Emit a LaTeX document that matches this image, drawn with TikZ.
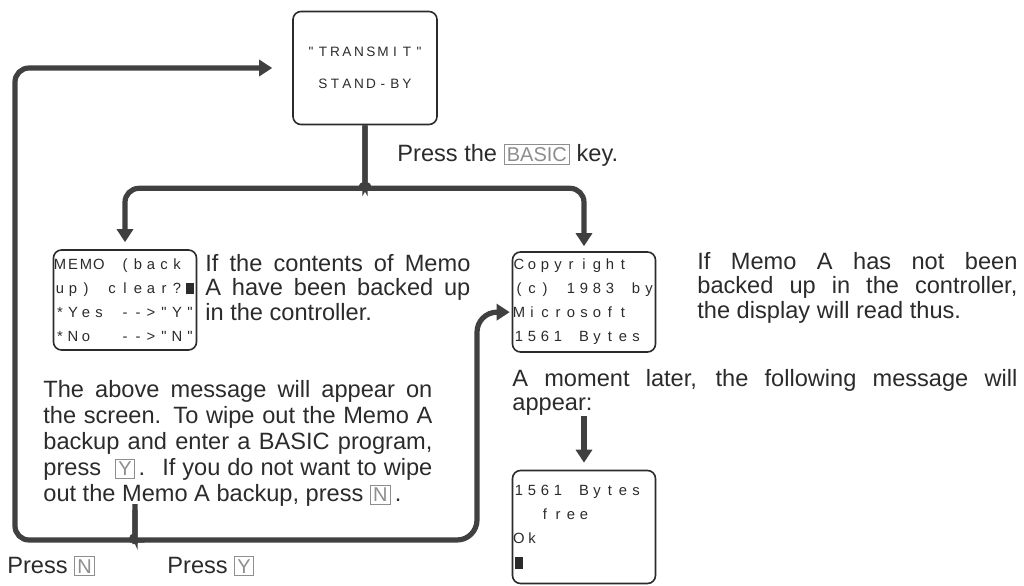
\documentclass[tikz,border=0pt]{standalone}
\usepackage{fontspec}
\setmainfont{Liberation Sans}
\newfontfamily\lcdfont{Liberation Sans}
\usetikzlibrary{arrows.meta,positioning}
\definecolor{ink}{HTML}{2B2B2B}
\definecolor{keygray}{HTML}{8E8E8E}
\hyphenpenalty=10000
\exhyphenpenalty=10000
\newcommand{\keycap}[1]{{\setlength{\fboxsep}{1.2pt}\setlength{\fboxrule}{0.4pt}\fcolorbox{keygray}{white}{\color{keygray}\fontsize{10}{10}\selectfont#1}}}
\newlength{\lcdw}
\setlength{\lcdw}{6.5pt}
\def\lcd#1{\lcdloop#1\relax}
\def\lcdloop#1{\ifx#1\relax\else\makebox[\lcdw][c]{#1}\expandafter\lcdloop\fi}
\newcommand{\cursor}{\rule[-0.6pt]{4pt}{5.8pt}}

\begin{document}
\begin{tikzpicture}[x=0.5pt, y=-0.5pt,
  lcdbox/.style={draw=ink, line width=0.8pt, rounded corners=4pt, inner sep=0pt,
    text width=71.5pt, minimum height=50pt, align=left, text=ink,
    font=\lcdfont\fontsize{7.4}{12}\selectfont},
  flow/.style={draw=ink!90, line width=2.6pt, rounded corners=7pt,
    -{Triangle[length=6.5pt,width=8pt]}},
  bare/.style={draw=ink!90, line width=2.6pt},
  note/.style={inner sep=0pt, anchor=north west, align=justify, text=ink,
    font=\fontsize{11.8}{12.2}\selectfont}]
  \useasboundingbox (0,0) rectangle (1024,585);

  % displays
  \node[lcdbox, text width=72pt, minimum height=56.5pt, align=center,
    font=\lcdfont\fontsize{6.8}{16}\selectfont\setlength{\lcdw}{6pt}]
    (top) at (365,68) {\lcd{"TRANSMIT"}\\\lcd{STAND-BY}};
  \node[lcdbox] (memo) at (125,300)
    {\lcd{MEMO~(back}\\\lcd{up)~clear?\cursor}\\\lcd{*Yes~-->"Y"}\\\lcd{*No~~-->"N"}};
  \node[lcdbox] (copy) at (584,302)
    {\lcd{Copyright}\\\lcd{(c)~1983~by}\\\lcd{Microsoft}\\\lcd{1561~Bytes}};
  \node[lcdbox, minimum height=56.5pt] (bottom) at (584,527)
    {\lcd{1561~Bytes}\\\lcd{~~free}\\\lcd{Ok}\\\lcd{\cursor}};

  % texts
  \node[note, anchor=base west] (press) at (397,161) {Press the \keycap{BASIC} key.};
  \node[note, text width=132.5pt] (memonote) at (205,254)
    {If the contents of Memo\linebreak A have been backed up\linebreak in the controller.};
  \node[note, text width=160pt] (copynote) at (697,252)
    {If Memo A has not been\linebreak backed up in the controller,\linebreak the display will read thus.};
  \node[note, text width=194.5pt, font=\fontsize{11.8}{13}\selectfont] (para) at (43,380)
    {The above message will appear on\linebreak the screen. To wipe out the Memo A\linebreak
     backup and enter a BASIC program,\linebreak press \ \keycap{Y}\,. \ If you do not want to wipe\linebreak
     out the Memo A backup, press \keycap{N}\,.};
  \node[note, text width=252.5pt] (later) at (512,369)
    {A moment later, the following message will\linebreak appear:};
  \node[note, anchor=base west] (pressN) at (7,573) {Press \keycap{N}};
  \node[note, anchor=base west] (pressY) at (167,573) {Press \keycap{Y}};

  % connectors
  \coordinate[below=23.5pt of top] (split);
  \coordinate (fork) at (135,517);
  \coordinate (loopN) at (15,540);
  \coordinate (loopY) at (477,540);
  \draw[flow, shorten >=3.5pt] (top.south) -- (split) to[out=-90,in=0] ++(-16,16) -| (memo.north);
  \draw[flow, shorten >=2.5pt] (top.south) -- (split) to[out=-90,in=180] ++(16,16) -| (copy.north);
  \draw[flow, shorten >=3.5pt] (bottom.north |- later.south) -- (bottom.north);
  \draw[flow, shorten >=10pt] (fork) -- ++(0,7) to[out=-90,in=0] ++(-15,16) -- (loopN) |- (top.west);
  \draw[flow, rounded corners=10pt, shorten >=1pt] (fork) -- ++(0,7) to[out=-90,in=180] ++(15,16) -- (loopY) |- (copy.188);
\end{tikzpicture}
\end{document}
